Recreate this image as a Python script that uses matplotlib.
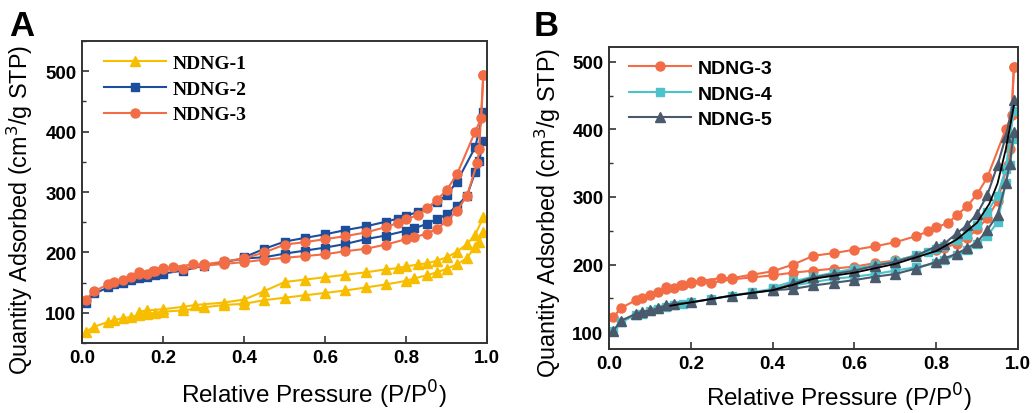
import matplotlib
matplotlib.use("Agg")
import matplotlib.pyplot as plt
from matplotlib.ticker import MultipleLocator

plt.rcParams['font.family'] = ['Liberation Sans', 'DejaVu Sans']

# ---------------- data ----------------
x_ticks = [0.0, 0.2, 0.4, 0.6, 0.8, 1.0]
x_tick_labels = ['0.0', '0.2', '0.4', '0.6', '0.8', '1.0']
y_ticks = [100, 200, 300, 400, 500]
y_tick_labels = ['100', '200', '300', '400', '500']

# NDNG-1 (panel A)
n1_ads_x = [0.01, 0.03, 0.065, 0.08, 0.1, 0.12, 0.14, 0.16, 0.18, 0.2, 0.25, 0.3, 0.35, 0.4, 0.45, 0.5, 0.55, 0.6,
            0.65, 0.7, 0.75, 0.8, 0.82, 0.85, 0.875, 0.9, 0.925, 0.95, 0.97, 0.98, 0.99]
n1_ads_y = [69, 77, 85, 88, 91, 93, 96, 98, 100, 102, 104, 109, 113, 115, 121, 125, 129, 133,
            137, 142, 147, 153, 157, 162, 167, 173, 180, 191, 209, 218, 234]
n1_des_x = [0.99, 0.97, 0.95, 0.925, 0.9, 0.875, 0.85, 0.83, 0.8, 0.78, 0.75, 0.7, 0.65, 0.6, 0.55, 0.5, 0.45,
            0.4, 0.35, 0.28, 0.25, 0.2, 0.16, 0.14]
n1_des_y = [258, 229, 214, 201, 192, 186, 182, 180, 177, 174, 172, 167, 163, 159, 155, 151, 136,
            122, 117, 113, 110, 106, 104, 102]

# NDNG-2 (panel A)
n2_ads_x = [0.01, 0.03, 0.065, 0.08, 0.1, 0.12, 0.14, 0.16, 0.18, 0.2, 0.25, 0.3, 0.35, 0.4, 0.45, 0.5, 0.55, 0.6,
            0.65, 0.7, 0.75, 0.8, 0.82, 0.85, 0.875, 0.9, 0.925, 0.95, 0.97, 0.98, 0.99]
n2_ads_y = [117, 132, 142, 147, 150, 154, 157, 159, 163, 165, 170, 178, 184, 190, 192, 198, 203, 208,
            214, 222, 228, 236, 240, 247, 255, 263, 277, 294, 333, 351, 385]
n2_des_x = [0.99, 0.97, 0.925, 0.9, 0.875, 0.83, 0.8, 0.78, 0.75, 0.7, 0.65, 0.6, 0.55, 0.5, 0.45, 0.4]
n2_des_y = [432, 374, 317, 295, 283, 267, 261, 256, 251, 243, 237, 230, 224, 218, 206, 192]

# NDNG-3 (panels A and B)
n3_ads_x = [0.01, 0.03, 0.065, 0.08, 0.1, 0.12, 0.14, 0.16, 0.18, 0.2, 0.25, 0.3, 0.35, 0.4, 0.45, 0.5, 0.55, 0.6,
            0.65, 0.7, 0.75, 0.8, 0.82, 0.85, 0.875, 0.9, 0.925, 0.95, 0.975, 0.98, 0.99]
n3_ads_y = [122, 136, 147, 151, 155, 159, 164, 165, 169, 173, 173, 178, 181, 184, 188, 191, 194, 197,
            202, 206, 213, 222, 225, 231, 239, 252, 269, 294, 348, 371, 493]
n3_des_x = [0.99, 0.985, 0.97, 0.925, 0.9, 0.875, 0.85, 0.83, 0.8, 0.78, 0.75, 0.7, 0.65, 0.6, 0.55, 0.5, 0.45,
            0.4, 0.35, 0.3, 0.275, 0.225, 0.2, 0.175, 0.14]
n3_des_y = [493, 422, 400, 329, 304, 286, 273, 262, 255, 249, 242, 233, 227, 222, 217, 213, 200,
            190, 185, 180, 180, 176, 174, 170, 167]

# NDNG-4 (panel B)
n4_ads_x = [0.01, 0.03, 0.065, 0.08, 0.1, 0.12, 0.14, 0.16, 0.18, 0.2, 0.25, 0.3, 0.35, 0.4, 0.45, 0.5, 0.55, 0.6,
            0.65, 0.7, 0.75, 0.8, 0.82, 0.85, 0.875, 0.9, 0.925, 0.95, 0.97, 0.98, 0.99]
n4_ads_y = [101, 115, 125, 127, 131, 134, 137, 140, 142, 144, 149, 154, 159, 164, 169, 174, 179, 182,
            186, 191, 196, 202, 207, 214, 221, 231, 242, 263, 320, 347, 386]
n4_des_x = [0.99, 0.98, 0.97, 0.95, 0.925, 0.9, 0.875, 0.85, 0.82, 0.8, 0.78, 0.75, 0.7, 0.65, 0.6, 0.55, 0.5,
            0.45, 0.4]
n4_des_y = [428, 386, 342, 302, 278, 258, 244, 236, 227, 223, 219, 214, 205, 199, 194, 188, 182,
            175, 166]

# NDNG-5 (panel B)
n5_ads_x = [0.01, 0.03, 0.065, 0.08, 0.1, 0.12, 0.14, 0.16, 0.2, 0.25, 0.3, 0.35, 0.4, 0.45, 0.5, 0.55, 0.6,
            0.65, 0.7, 0.75, 0.8, 0.82, 0.85, 0.875, 0.9, 0.925, 0.95, 0.97, 0.98, 0.99]
n5_ads_y = [102, 117, 127, 130, 132, 135, 140, 142, 144, 149, 154, 158, 162, 164, 169, 173, 177,
            182, 186, 194, 204, 209, 216, 224, 233, 251, 274, 320, 349, 396]
n5_des_x = [0.99, 0.97, 0.95, 0.925, 0.9, 0.875, 0.85, 0.82, 0.8, 0.75, 0.7, 0.65, 0.6, 0.55, 0.5, 0.45, 0.4]
n5_des_y = [443, 389, 347, 303, 275, 258, 246, 231, 227, 213, 204, 198, 191, 186, 181, 172, 162]

# black guide line (panel B)
blk_x = [0.15, 0.2, 0.3, 0.4, 0.45, 0.5, 0.6, 0.7, 0.8, 0.85, 0.9, 0.93, 0.95, 0.97, 0.99]
blk_y = [139, 144, 154, 162, 170, 179, 188, 201, 220, 237, 262, 290, 320, 370, 435]

C1, C2, C3, C4, C5 = '#F7BE00', '#1C4E9B', '#F26C45', '#4CC3CB', '#4A5A6C'

fig = plt.figure(figsize=(10.34, 4.14), dpi=100)
axA = fig.add_axes([0.0793, 0.169, 0.392, 0.7296])
axB = fig.add_axes([0.589, 0.1546, 0.3955, 0.7294])


def style(ax, ylim, ylab_xy, xlab_xy):
    ax.set_xlim(0, 1.0)
    ax.set_ylim(*ylim)
    ax.set_xticks(x_ticks)
    ax.set_xticklabels(x_tick_labels, fontweight='bold')
    ax.set_yticks(y_ticks)
    ax.set_yticklabels(y_tick_labels, fontweight='bold')
    ax.yaxis.set_minor_locator(MultipleLocator(50))
    ax.tick_params(direction='in', which='major', length=5, width=1.2, labelsize=13.5, color='#333333', pad=4)
    ax.tick_params(direction='in', which='minor', length=3, width=1.0, color='#333333')
    for s in ax.spines.values():
        s.set_linewidth(1.4)
        s.set_color('#333333')
    ax.set_xlabel('Relative Pressure (P/P$^0$)', fontsize=17.5)
    ax.set_ylabel('Quantity Adsorbed (cm$^3$/g STP)', fontsize=16.8)
    ax.yaxis.set_label_coords(*ylab_xy)
    ax.xaxis.set_label_coords(*xlab_xy)
    ax.xaxis.label.set_va('center')
    ax.yaxis.label.set_va('center')


def iso(ax, xa, ya, xd, yd, color, marker, label, ms):
    ax.plot(xa, ya, color=color, marker=marker, ms=ms, lw=1.5, label=label)
    ax.plot(xd, yd, color=color, marker=marker, ms=ms, lw=1.5)


# Panel A
iso(axA, n1_ads_x, n1_ads_y, n1_des_x, n1_des_y, C1, '^', 'NDNG-1', 6.5)
iso(axA, n2_ads_x, n2_ads_y, n2_des_x, n2_des_y, C2, 's', 'NDNG-2', 5.5)
iso(axA, n3_ads_x, n3_ads_y, n3_des_x, n3_des_y, C3, 'o', 'NDNG-3', 6.5)
style(axA, (50, 550), (-0.153, 0.445), (0.573, -0.169))
axA.legend(loc='upper left', frameon=False, handlelength=3.2, handletextpad=0.35, labelspacing=0.42,
           bbox_to_anchor=(0.025, 0.995), borderaxespad=0.2,
           prop={'family': 'Liberation Serif', 'weight': 'bold', 'size': 14})

# Panel B
iso(axB, n3_ads_x, n3_ads_y, n3_des_x, n3_des_y, C3, 'o', 'NDNG-3', 6.5)
iso(axB, n4_ads_x, n4_ads_y, n4_des_x, n4_des_y, C4, 's', 'NDNG-4', 5.5)
iso(axB, n5_ads_x, n5_ads_y, n5_des_x, n5_des_y, C5, '^', 'NDNG-5', 6.5)
axB.plot(blk_x, blk_y, color='black', lw=1.3)
style(axB, (75, 522), (-0.149, 0.455), (0.562, -0.159))
axB.legend(loc='upper left', frameon=False, handlelength=3.2, handletextpad=0.35, labelspacing=0.4,
           bbox_to_anchor=(0.02, 0.997), borderaxespad=0.2,
           prop={'family': 'Liberation Sans', 'weight': 'bold', 'size': 14})

fig.text(0.009, 0.975, 'A', fontsize=25, fontweight='bold', va='top', ha='left')
fig.text(0.516, 0.975, 'B', fontsize=25, fontweight='bold', va='top', ha='left')

fig.savefig('out.png', dpi=100)
